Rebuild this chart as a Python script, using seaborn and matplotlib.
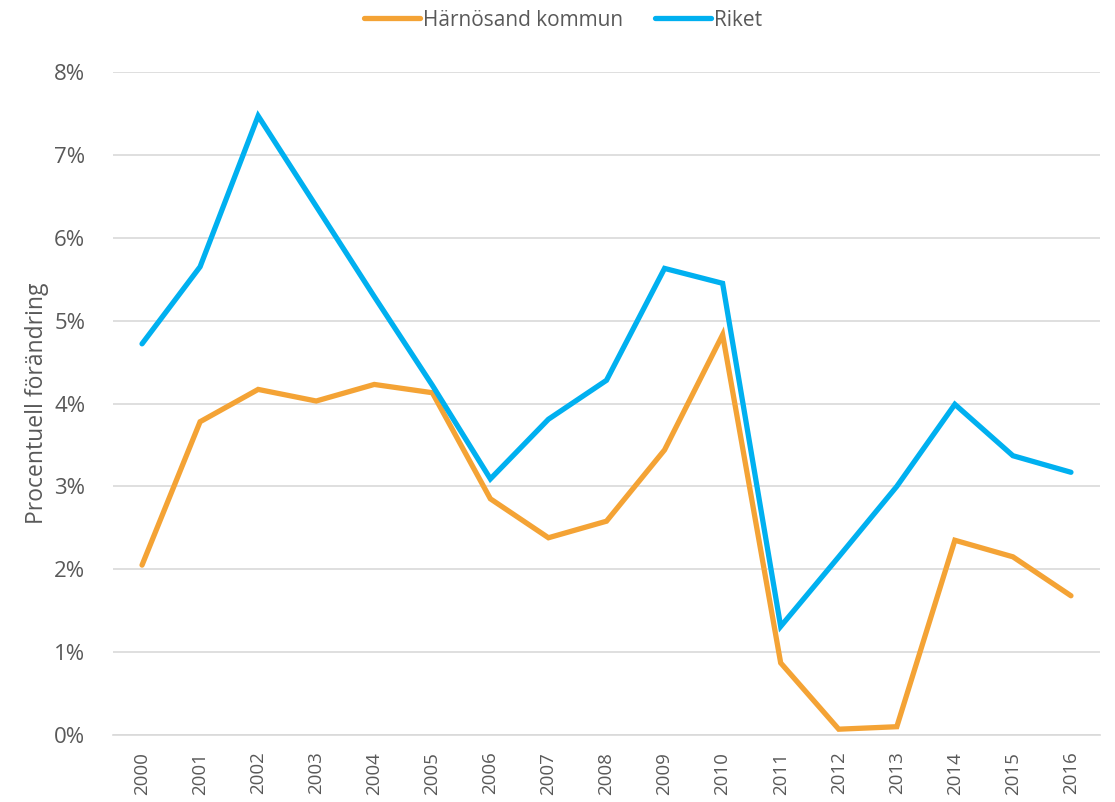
import pandas as pd
import seaborn as sns
import matplotlib.pyplot as plt
from matplotlib.ticker import PercentFormatter

years = [str(y) for y in range(2000, 2017)]
harnosand = [2.05, 3.78, 4.17, 4.03, 4.23, 4.13, 2.85, 2.38, 2.58, 3.44, 4.83,
             0.87, 0.07, 0.10, 2.35, 2.15, 1.68]
riket = [4.72, 5.65, 7.47, 6.38, 5.29, 4.22, 3.09, 3.81, 4.28, 5.63, 5.45,
         1.31, 2.15, 3.00, 3.99, 3.37, 3.17]
series_names = ["Härnösand kommun", "Riket"]

df = pd.DataFrame({"year": years * 2,
                   "value": harnosand + riket,
                   "serie": [series_names[0]] * len(years) + [series_names[1]] * len(years)})

sns.set_theme(style="white")
plt.rcParams['font.family'] = ['Open Sans', 'DejaVu Sans']
text_col = "#595959"

fig = plt.figure(figsize=(11.15, 8.02), dpi=100)
ax = fig.add_axes([113 / 1115, 1 - 735 / 802, 987 / 1115, 663 / 802])

sns.lineplot(data=df, x="year", y="value", hue="serie",
             palette=["#F4A335", "#00B0F0"], linewidth=3.8, ax=ax,
             sort=False)
for line in ax.get_lines():
    line.set_solid_capstyle("round")
    line.set_solid_joinstyle("miter")

ax.set_xlim(-0.5, len(years) - 0.5)
ax.set_ylim(0, 8)
ax.set_yticks(range(0, 9))
ax.yaxis.set_major_formatter(PercentFormatter(decimals=0))
ax.grid(axis="y", color="#D9D9D9", linewidth=1.2)
ax.set_axisbelow(True)
for s in ["top", "right", "left"]:
    ax.spines[s].set_visible(False)
ax.spines["bottom"].set_color("#D9D9D9")
ax.spines["bottom"].set_linewidth(1.2)

ax.tick_params(axis="x", labelrotation=90, labelsize=13.5, colors=text_col, length=0, pad=12)
ax.tick_params(axis="y", labelsize=16, colors=text_col, length=0, pad=20)
ax.set_xlabel("")
ax.set_ylabel("Procentuell förändring", fontsize=16.5, color=text_col, labelpad=4)

handles, labels = ax.get_legend_handles_labels()
ax.legend(handles, labels, loc="center", bbox_to_anchor=(0.456, 1 + 52 / 663),
          ncol=2, frameon=False, fontsize=15, labelcolor=text_col,
          handlelength=2.7, handletextpad=0.15, columnspacing=1.5)

fig.savefig("out.png", dpi=100)
